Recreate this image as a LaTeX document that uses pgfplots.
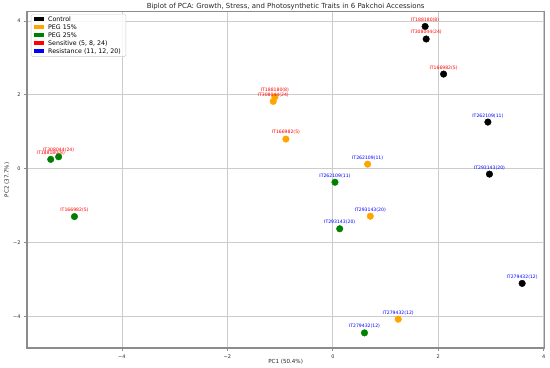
\documentclass[border=0pt]{standalone}
\usepackage{pgfplots}
\pgfplotsset{compat=1.18}
\usepackage{fontspec}
\setmainfont{DejaVu Sans}
\definecolor{mplorange}{HTML}{FFA500}
\definecolor{mplgreen}{HTML}{008000}
\pgfplotsset{
  lbl/.style={nodes near coords, point meta=explicit symbolic,
    every node near coord/.append style={text=#1, font=\fontsize{4.6}{5}\selectfont, anchor=center, yshift=6.5bp, inner sep=0pt}},
  pts/.style={only marks, mark=*, mark size=3.3bp, draw=#1, fill=#1, mark options={draw=#1, fill=#1}, forget plot}
}
\begin{document}
\begin{tikzpicture}
\begin{axis}[
  scale only axis, width=517.3bp, height=336.3bp,
  xmin=-5.8, xmax=4.01, ymin=-4.86, ymax=4.25,
  xtick={-4,-2,0,2,4}, xticklabels={−4,−2,0,2,4},
  ytick={-4,-2,0,2,4}, yticklabels={−4,−2,0,2,4},
  grid=major, grid style={black!20, line width=0.7bp},
  axis line style={black!45, line width=1.1bp},
  tick align=outside, tick pos=left, major tick length=3bp,
  tick style={black!45, line width=0.7bp},
  ticklabel style={font=\fontsize{5}{6}\selectfont, text=black!85},
  xlabel={PC1 (50.4\%)}, ylabel={PC2 (37.7\%)},
  xlabel style={font=\fontsize{5.6}{6}\selectfont, at={(axis description cs:0.5,-0.0407)}, anchor=center, text=black!85},
  ylabel style={font=\fontsize{5.6}{6}\selectfont, at={(axis description cs:-0.0387,0.5)}, anchor=center, text=black!85},
  legend image code/.code={\fill[#1, draw=none, fill opacity=1, sharp corners] (0bp,-2bp) rectangle (10bp,2bp);},
  legend style={at={(axis description cs:0.0077,0.993)}, anchor=north west,
    draw=black!20, rounded corners=1.5bp, fill=white, fill opacity=0.85, text opacity=1,
    font=\fontsize{6.3}{7}\selectfont,
    nodes={text height=4.9bp, text depth=1.3bp, inner ysep=0.9bp, inner xsep=2bp},
    column sep=2bp,
    inner xsep=3bp, inner ysep=1.2bp},
  legend cell align=left,
]
\addlegendimage{fill=black}\addlegendentry{Control}
\addlegendimage{fill=mplorange}\addlegendentry{PEG 15\%}
\addlegendimage{fill=mplgreen}\addlegendentry{PEG 25\%}
\addlegendimage{fill=red}\addlegendentry{Sensitive (5, 8, 24)}
\addlegendimage{fill=blue}\addlegendentry{Resistance (11, 12, 20)}

% Control
\addplot[pts=black, lbl=red] table[meta=label] {
x y label
1.75 3.85 IT188180(8)
1.77 3.51 IT308044(24)
2.10 2.56 IT166982(5)
};
\addplot[pts=black, lbl=blue] table[meta=label] {
x y label
2.94 1.26 IT262109(11)
2.97 -0.15 IT293143(20)
3.59 -3.11 IT279432(12)
};
% PEG 15%
\addplot[pts=mplorange, lbl=red] table[meta=label] {
x y label
-1.10 1.94 IT188180(8)
-1.13 1.82 IT308044(24)
-0.89 0.80 IT166982(5)
};
\addplot[pts=mplorange, lbl=blue] table[meta=label] {
x y label
0.66 0.12 IT262109(11)
0.71 -1.29 IT293143(20)
1.24 -4.08 IT279432(12)
};
% PEG 25%
\addplot[pts=mplgreen, lbl=red] table[meta=label] {
x y label
-5.35 0.25 IT188180(8)
-5.20 0.32 IT308044(24)
-4.90 -1.30 IT166982(5)
};
\addplot[pts=mplgreen, lbl=blue] table[meta=label] {
x y label
0.04 -0.37 IT262109(11)
0.13 -1.63 IT293143(20)
0.60 -4.45 IT279432(12)
};
\end{axis}
\node[font=\fontsize{7}{8}\selectfont, text=black!85, anchor=base, inner sep=0pt] at ([yshift=2.7bp]current axis.north) {Biplot of PCA: Growth, Stress, and Photosynthetic Traits in 6 Pakchoi Accessions};
\pgfresetboundingbox
\path[use as bounding box] ([xshift=-27bp,yshift=-20bp]current axis.south west) rectangle ([xshift=5.7bp,yshift=11.7bp]current axis.north east);
\end{tikzpicture}
\end{document}
